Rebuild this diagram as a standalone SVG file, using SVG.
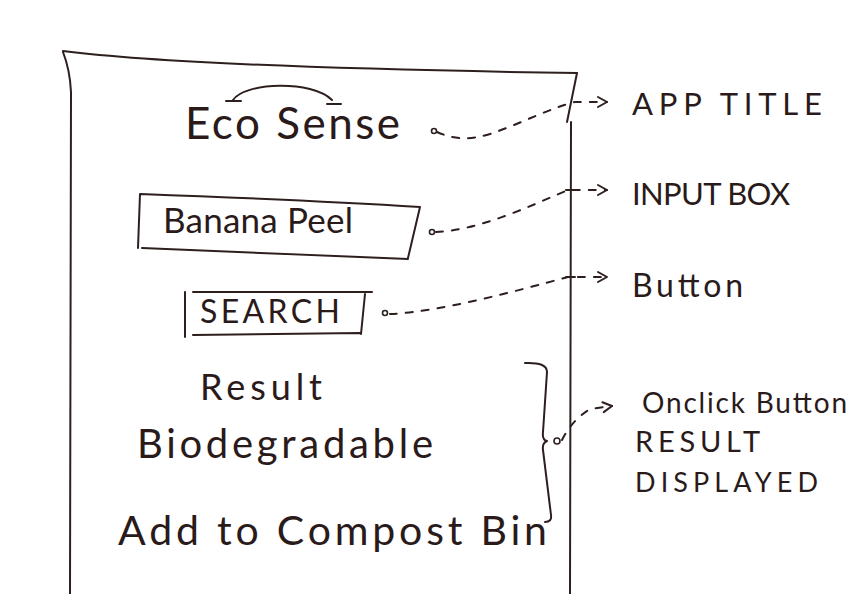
<svg xmlns="http://www.w3.org/2000/svg" width="868" height="594" viewBox="0 0 868 594">
<style>
  .ink{fill:none;stroke:#2e1f1f;stroke-width:2;stroke-linecap:round;stroke-linejoin:round}
  .dash{fill:none;stroke:#2e1f1f;stroke-width:2;stroke-dasharray:7 9;stroke-linecap:round}
  .dot{fill:#fff;stroke:#2e1f1f;stroke-width:1.6}
  text{font-family:"Lato","Liberation Sans",sans-serif;font-weight:400;fill:#2a1a1a}
</style>
<defs>
  <marker id="chev" markerWidth="14" markerHeight="14" refX="12" refY="7" orient="auto" markerUnits="userSpaceOnUse">
    <path d="M3,2 L12,7 L3,12" fill="none" stroke="#2e1f1f" stroke-width="2" stroke-linecap="round" stroke-linejoin="round"/>
  </marker>
</defs>
<rect width="868" height="594" fill="#ffffff"/>

<g id="phone-frame">
  <path class="ink" d="M63,51 C150,62 300,69 577,73"/>
  <path class="ink" d="M63,52 Q70,70 71,92 L70,594"/>
  <path class="ink" d="M577,73 L567,122"/>
  <path class="ink" d="M571,122 L570,594" stroke-width="1.6"/>
  <path class="ink" d="M566,190 L575,190 M566,277 L575,277"/>
</g>

<g id="app-title">
  <path class="ink" d="M233,100 C245,82 312,80 332,100"/>
  <path class="ink" d="M226,101 L241,101 M327,104 L341,104"/>
  <text x="185" y="139" font-size="44" textLength="215" lengthAdjust="spacing">Eco Sense</text>
</g>

<g id="input-box">
  <path class="ink" d="M140,194 L138,248 M140,194 C250,198 340,202 420,207 L408,258 M142,248 C250,252 340,256 408,259"/>
  <text x="163" y="233" font-size="35" textLength="190" lengthAdjust="spacing">Banana Peel</text>
</g>

<g id="search-button">
  <path class="ink" d="M185,292 L185,337 M193,292 L372,292 M365,294 L361,334 M193,335 L360,333"/>
  <text x="200" y="323" font-size="32" textLength="140" lengthAdjust="spacing">SEARCH</text>
</g>

<g id="result">
  <text x="200" y="400" font-size="36" textLength="122" lengthAdjust="spacing">Result</text>
  <text x="137" y="458" font-size="40" textLength="296" lengthAdjust="spacing">Biodegradable</text>
  <text x="118" y="545" font-size="41" textLength="429" lengthAdjust="spacing">Add to Compost Bin</text>
  <path class="ink" d="M525,363 Q547,362 547,372 L543,432 Q542,440 547,441 Q542,443 543,450 L551,515 Q552,522 545,522"/>
</g>

<g id="connectors">
  <circle class="dot" cx="434" cy="131" r="2.5"/>
  <path class="dash" d="M437,132 C455,140 470,140 490,134 C520,124 550,108 575,102 L607,102" marker-end="url(#chev)"/>
  <circle class="dot" cx="432" cy="232" r="2.5"/>
  <path class="dash" d="M436,232 C480,230 530,206 568,190 L607,190" marker-end="url(#chev)"/>
  <circle class="dot" cx="385" cy="313" r="2.5"/>
  <path class="dash" d="M390,314 C440,312 520,290 568,277 L607,277" marker-end="url(#chev)"/>
  <circle class="dot" cx="557" cy="441" r="3"/>
  <path class="dash" d="M562,440 Q572,420 590,409 L612,406" stroke-dasharray="5 6" marker-end="url(#chev)"/>
</g>

<g id="label-app-title">
  <text x="632" y="115" font-size="31" textLength="190" lengthAdjust="spacing">APP TITLE</text>
</g>
<g id="label-input-box">
  <text x="632" y="205" font-size="31" textLength="158" lengthAdjust="spacing">INPUT BOX</text>
</g>
<g id="label-button">
  <text x="632" y="297" font-size="32" textLength="111" lengthAdjust="spacing">Button</text>
</g>
<g id="label-result">
  <text x="642" y="413" font-size="28" textLength="205" lengthAdjust="spacing">Onclick Button</text>
  <text x="635" y="452" font-size="29" textLength="125" lengthAdjust="spacing">RESULT</text>
  <text x="635" y="492" font-size="27" textLength="183" lengthAdjust="spacing">DISPLAYED</text>
</g>
</svg>
